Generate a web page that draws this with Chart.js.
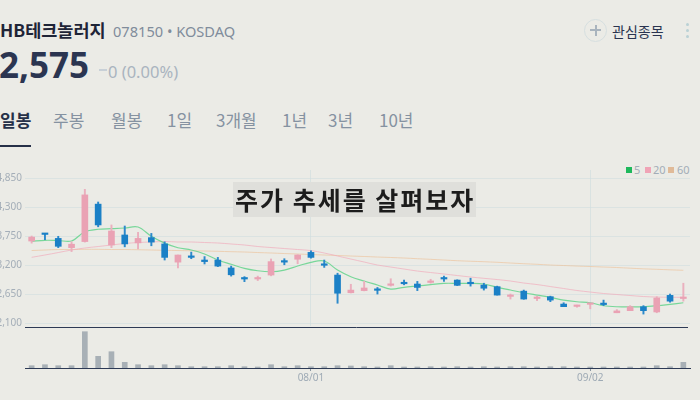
<!DOCTYPE html>
<html><head><meta charset="utf-8">
<script src="https://cdn.jsdelivr.net/npm/chart.js@4"></script>
<style>
html,body{margin:0;padding:0;width:700px;height:400px;overflow:hidden;background:#ebebe6;font-family:"Noto Sans CJK KR","Noto Sans",sans-serif;}
#wrap{position:relative;width:700px;height:400px;}
.abs{position:absolute;white-space:nowrap;line-height:1;}
canvas{position:absolute;left:0;top:0;}
.tab{position:absolute;top:111px;font-size:17px;color:#8592a1;line-height:1;white-space:nowrap;}
.lg{position:absolute;top:167px;width:6px;height:6px;}
.lgt{position:absolute;top:164px;font-size:11px;color:#a3adb7;font-family:"Noto Sans",sans-serif;line-height:1;}
</style></head>
<body><div id="wrap">
<div class="abs" style="left:0;top:21px;font-size:17.5px;font-weight:700;color:#1e2437">HB테크놀러지</div>
<div class="abs" style="left:113px;top:24px;font-size:14.6px;color:#808c9b;font-family:'Noto Sans',sans-serif">078150 • KOSDAQ</div>
<div class="abs" style="left:-1px;top:47px;font-size:35px;font-weight:700;color:#2b3551;font-family:'Noto Sans',sans-serif">2,575</div>
<div class="abs" style="left:99px;top:69px;width:8px;height:2px;background:#c8d0d7"></div>
<div class="abs" style="left:108px;top:63.5px;font-size:16.5px;color:#a9b4bf;font-family:'Noto Sans',sans-serif">0 (0.00%)</div>

<div class="tab" style="left:0;font-weight:700;color:#263048">일봉</div>
<div class="tab" style="left:53px">주봉</div>
<div class="tab" style="left:111px">월봉</div>
<div class="tab" style="left:167px">1일</div>
<div class="tab" style="left:216px">3개월</div>
<div class="tab" style="left:282px">1년</div>
<div class="tab" style="left:328px">3년</div>
<div class="tab" style="left:379px">10년</div>
<div class="abs" style="left:0;top:145px;width:31px;height:2px;background:#263048"></div>

<div class="abs" style="left:584px;top:19px;width:21px;height:21px;border:1px solid #d6dfe0;border-radius:50%"></div>
<div class="abs" style="left:590px;top:29px;width:11px;height:2px;background:#a9b4be"></div>
<div class="abs" style="left:594.5px;top:24.5px;width:2px;height:11px;background:#a9b4be"></div>
<div class="abs" style="left:612px;top:24px;font-size:14px;color:#2a3450">관심종목</div>
<div class="abs" style="left:686px;top:23px;width:3px;height:3px;border-radius:50%;background:#bad1d5"></div>
<div class="abs" style="left:686px;top:29px;width:3px;height:3px;border-radius:50%;background:#bad1d5"></div>
<div class="abs" style="left:686px;top:35px;width:3px;height:3px;border-radius:50%;background:#bad1d5"></div>

<div class="lg" style="left:626px;background:#1eb85c"></div><div class="lgt" style="left:634px">5</div>
<div class="lg" style="left:645px;background:#f0a4b6"></div><div class="lgt" style="left:653px">20</div>
<div class="lg" style="left:668px;background:#e0ba98"></div><div class="lgt" style="left:677px">60</div>

<canvas id="price" width="700" height="400"></canvas>
<canvas id="vol" width="700" height="400"></canvas>

<div class="abs" style="left:233px;top:182px;width:243px;height:35px;background:#dfdfdb"></div>
<div class="abs" style="left:235px;top:187px;font-size:25px;font-weight:700;color:#1c1c1c;letter-spacing:2px">주가 추세를 살펴보자</div>
</div>
<script>
const dates = ['07/03','07/04','07/05','07/08','07/09','07/10','07/11','07/12','07/15','07/16','07/17','07/18','07/19','07/22','07/23','07/24','07/25','07/26','07/29','07/30','07/31','08/01','08/02','08/05','08/06','08/07','08/08','08/09','08/12','08/13','08/14','08/16','08/19','08/20','08/21','08/22','08/23','08/26','08/27','08/28','08/29','08/30','09/02','09/03','09/04','09/05','09/06','09/09','09/10','09/11'];
const shownDates = ['08/01','09/02'];
const priceTicks = [2100,2650,3200,3750,4300,4850];

const opens  = [3660,3800,3710,3535,3650,4360,3585,3775,3625,3725,3605,3260,3375,3300,3300,3150,2955,2940,3015,3275,3315,3445,3210,3015,2680,2720,2740,2820,2860,2845,2875,2950,2920,2865,2825,2795,2610,2710,2570,2605,2465,2420,2460,2465,2300,2340,2415,2315,2630,2570];
const highs  = [3755,3800,3750,3645,4640,4400,3965,3945,3825,3805,3645,3395,3450,3365,3350,3185,2985,2995,3320,3325,3400,3475,3300,3050,2840,2895,2780,2945,2920,2895,2935,2995,2925,2955,2860,2805,2655,2730,2615,2615,2490,2445,2480,2540,2360,2435,2435,2605,2655,2860];
const lows   = [3620,3685,3535,3460,3640,3930,3535,3550,3510,3570,3300,3150,3325,3225,3175,2995,2890,2910,3000,3210,3230,3335,3160,2480,2675,2715,2655,2805,2830,2720,2860,2895,2815,2805,2730,2635,2560,2555,2530,2510,2415,2405,2375,2435,2300,2340,2275,2300,2500,2520];
const closes = [3735,3785,3560,3600,4535,3965,3850,3605,3710,3640,3350,3395,3350,3270,3185,3020,2940,2955,3270,3260,3395,3350,3200,2670,2730,2770,2725,2835,2850,2780,2890,2940,2820,2850,2765,2635,2625,2560,2585,2540,2415,2430,2470,2455,2335,2415,2340,2580,2520,2575];
const volumes = [138000,198000,138000,138000,2178000,702000,978000,342000,198000,138000,198000,138000,78000,78000,78000,138000,78000,60000,198000,78000,138000,78000,78000,138000,120000,78000,60000,138000,60000,60000,78000,60000,78000,60000,78000,60000,78000,78000,60000,78000,78000,60000,60000,60000,60000,60000,60000,138000,78000,342000];
const ma5  = [3655,3674,3670,3661,3837,3883,3894,3907,3926,3750,3620,3533,3490,3414,3300,3219,3143,3097,3078,3110,3186,3257,3281,3110,2983,2902,2826,2750,2782,2807,2832,2858,2858,2858,2845,2782,2731,2680,2636,2593,2541,2509,2490,2433,2414,2414,2414,2433,2460,2490];
const ma20 = [3351,3395,3442,3490,3528,3556,3585,3613,3632,3642,3651,3642,3642,3632,3623,3604,3585,3556,3537,3518,3499,3480,3433,3376,3319,3262,3205,3167,3129,3091,3063,3035,3006,2978,2953,2930,2902,2864,2835,2797,2760,2722,2693,2665,2646,2627,2608,2598,2593,2593];
const ma60 = [3480,3490,3499,3499,3503,3503,3499,3499,3495,3490,3484,3480,3475,3471,3465,3458,3452,3442,3433,3423,3414,3404,3395,3386,3376,3367,3357,3348,3338,3325,3313,3300,3287,3277,3268,3257,3243,3230,3219,3205,3196,3186,3177,3167,3158,3145,3133,3124,3114,3105];

const UP = '#eaa2b4', DOWN = '#1b80c6', UPW = '#eab0be', DOWNW = '#2d8acb';
const isUp = closes.map((c,i)=>c>=opens[i]);

Chart.defaults.font.family = "'Noto Sans', sans-serif";
Chart.defaults.animation = false;

new Chart(document.getElementById('price'), {
  type: 'bar',
  data: {
    labels: dates,
    datasets: [
      {type:'line', label:'60', data: ma60, borderColor:'rgba(236,196,160,0.7)', borderWidth:1, pointRadius:0, tension:0.35, order:7},
      {type:'line', label:'20', data: ma20, borderColor:'rgba(241,172,188,0.7)', borderWidth:1, pointRadius:0, tension:0.35, order:6},
      {type:'line', label:'5', data: ma5, borderColor:'rgba(100,212,140,0.85)', borderWidth:1.2, pointRadius:0, tension:0.35, order:5},
      {label:'wick', data: lows.map((l,i)=>[l, highs[i]]), backgroundColor: isUp.map(u=>u?UPW:DOWNW), barThickness:1.3, grouped:false, order:2},
      {label:'body', data: opens.map((o,i)=>[o, closes[i]]), backgroundColor: isUp.map(u=>u?UP:DOWN), barThickness:6, grouped:false, minBarLength:1.5, order:1}
    ]
  },
  options: {
    responsive:false, devicePixelRatio:1,
    layout:{padding:{top:170,bottom:74,left:0,right:10}},
    plugins:{legend:{display:false}, tooltip:{enabled:false}},
    scales:{
      x:{display:true, offset:true,
         grid:{offset:false, drawTicks:false, color: c => shownDates.includes(dates[c.index]) ? 'rgba(205,220,222,0.6)' : 'rgba(0,0,0,0)'},
         border:{display:false}, ticks:{display:false},
         afterFit: s => { s.height = 0; }},
      y:{min:2049, max:5007,
         afterBuildTicks: s => { s.ticks = priceTicks.map(v=>({value:v})); },
         afterFit: s => { s.width = 25; },
         grid:{color:'rgba(205,220,222,0.55)', drawTicks:false},
         border:{display:false},
         ticks:{padding:3, color:'#a4aeb8', font:{size:10}, callback: v => v.toLocaleString('en-US')}}
    }
  }
});

const topLine = {
  id:'topLine',
  afterDraw(chart){
    const a = chart.chartArea, ctx = chart.ctx;
    ctx.save(); ctx.strokeStyle = '#2d3a55'; ctx.lineWidth = 1;
    ctx.beginPath(); ctx.moveTo(a.left, Math.round(a.top)+0.5); ctx.lineTo(a.right-2, Math.round(a.top)+0.5); ctx.stroke();
    ctx.restore();
  }
};

new Chart(document.getElementById('vol'), {
  type:'bar',
  data:{labels: dates, datasets:[{label:'volume', data: volumes, backgroundColor:'#a8b0b6', barThickness:5}]},
  options:{
    responsive:false, devicePixelRatio:1,
    layout:{padding:{top:327,bottom:0,left:25,right:10}},
    plugins:{legend:{display:false}, tooltip:{enabled:false}},
    scales:{
      x:{offset:true,
         grid:{offset:false, drawOnChartArea:false, drawTicks:true, tickLength:3, color: c => shownDates.includes(dates[c.index]) ? '#8a96a4' : 'rgba(0,0,0,0)'},
         border:{display:true, color:'#2d3a55', width:1},
         ticks:{autoSkip:false, maxRotation:0, minRotation:0, padding:1, color:'#9eaab5', font:{size:10},
                callback: (v,i) => shownDates.includes(dates[i]) ? dates[i] : ''},
         afterFit: s => { s.height = 32; }},
      y:{display:false, min:0, max:2460000}
    }
  },
  plugins:[topLine]
});
</script>
</body></html>
